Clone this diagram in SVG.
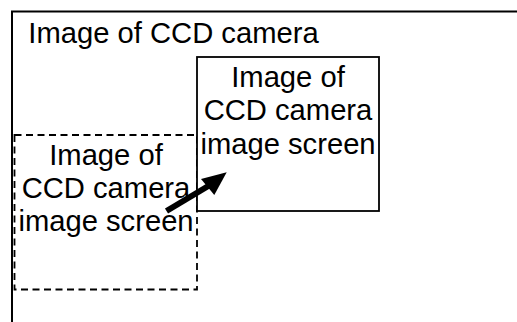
<svg xmlns="http://www.w3.org/2000/svg" width="517" height="322" viewBox="0 0 517 322">
<style>
text{font-family:"Liberation Sans",Arial,sans-serif;font-size:29.2px;fill:#000}
.c{text-anchor:middle}
.frame{fill:none;stroke:#000;stroke-width:2}
.solid{fill:#fff;stroke:#000;stroke-width:1.8}
.dash{fill:none;stroke:#000;stroke-width:1.8;stroke-dasharray:7 4.5}
</style>
<rect width="517" height="322" fill="#fff"/>
<g id="camera">
<path class="frame" d="M12,322 V11.5 H517"/>
<text x="28.3" y="43">Image of CCD camera</text>
</g>
<g id="screen-old">
<rect class="dash" x="14.5" y="135" width="182.5" height="154.5"/>
<text class="c" x="106" y="164.5">Image of</text>
<text class="c" x="106" y="197.5">CCD camera</text>
<text class="c" x="106" y="230.5">image screen</text>
</g>
<g id="screen-new">
<rect class="solid" x="197" y="57" width="182" height="154"/>
<text class="c" x="288" y="87">Image of</text>
<text class="c" x="288" y="120">CCD camera</text>
<text class="c" x="288" y="153.5">image screen</text>
</g>
<g id="connectors">
<line x1="166.5" y1="211" x2="210" y2="185" stroke="#000" stroke-width="6"/>
<polygon points="226.7,172.3 201,179 214.3,195" fill="#000"/>
</g>
</svg>
